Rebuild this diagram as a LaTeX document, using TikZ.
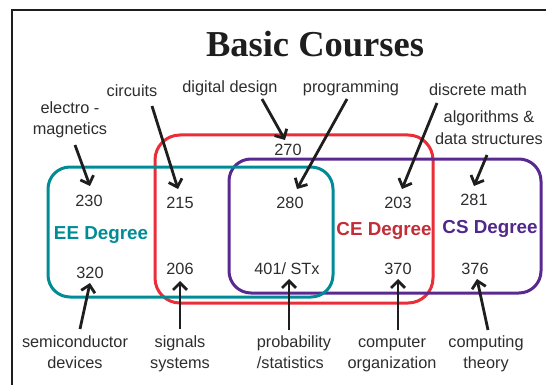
\documentclass[tikz,border=0pt]{standalone}
\usepackage{fontspec}
\setmainfont{Liberation Sans}
\newfontfamily\titlefont{Liberation Serif}
\usetikzlibrary{arrows.meta}
\definecolor{eeteal}{RGB}{0,140,150}
\definecolor{cered}{RGB}{235,45,55}
\definecolor{cetext}{RGB}{195,45,55}
\definecolor{cspurple}{RGB}{90,40,145}
\definecolor{cstext}{RGB}{80,40,140}
\definecolor{ink}{RGB}{30,30,30}
\definecolor{txt}{RGB}{45,45,45}
\begin{document}
\begin{tikzpicture}[x=1pt,y=-1pt,
  lab/.style={font=\fontsize{16.3}{21}\selectfont, text=txt, align=center, anchor=base, inner sep=0pt},
  num/.style={font=\fontsize{16.3}{19}\selectfont, text=txt, anchor=base, inner sep=0pt},
  deg/.style={font=\bfseries\fontsize{18.8}{22}\selectfont, anchor=base, inner sep=0pt},
  arr/.style={draw=ink, line width=2.8pt, -{Straight Barb[length=7pt,width=14pt]}},
  ring/.style={line width=3pt, rounded corners=22pt}]
\useasboundingbox (0,0) rectangle (546,385);
% frame
\draw[line width=2.5pt, ink] (12,400) -- (12,10) -- (560,10);
% title
\node[anchor=base, inner sep=0pt, font=\titlefont\bfseries\fontsize{36.5}{40}\selectfont, text=ink] (title) at (315,57) {Basic Courses};
% degree rings
\draw[ring, cered, rounded corners=25pt] (155,135) rectangle (433,303);
\draw[ring, cspurple] (229,159) rectangle (541,293);
\draw[ring, eeteal] (48,167) rectangle (333,297);
% degree names
\node[deg, text=eeteal] (ee) at (101,239) {EE Degree};
\node[deg, text=cetext] (ce) at (384,235) {CE Degree};
\node[deg, text=cstext] (cs) at (490,233) {CS Degree};
% course numbers
\node[num] (n270) at (288,156) {270};
\node[num] (n230) at (89,206) {230};
\node[num] (n215) at (180,208) {215};
\node[num] (n280) at (290,208) {280};
\node[num] (n203) at (398,208) {203};
\node[num] (n281) at (474,205) {281};
\node[num] (n320) at (90,278) {320};
\node[num] (n206) at (180,274) {206};
\node[num] (n401) at (287,274) {401/ STx};
\node[num] (n370) at (398,274) {370};
\node[num] (n376) at (475,274) {376};
% topic labels (base anchor = last line's baseline)
\node[lab] (electro) at (70,135) {electro -\\magnetics};
\node[lab] (circuits) at (132,97) {circuits};
\node[lab] (digital) at (230,93) {digital design};
\node[lab] (prog) at (351,93) {programming};
\node[lab] (discrete) at (478,96) {discrete math};
\node[lab] (algo) at (489,144) {algorithms \&\\data structures};
\node[lab] (semi) at (75,368) {semiconductor\\devices};
\node[lab] (signals) at (180,368) {signals\\systems};
\node[lab, align=left] (prob) at (294,368) {probability\\/statistics};
\node[lab] (comporg) at (392,368) {computer\\organization};
\node[lab] (comptheory) at (486,368) {computing\\theory};
% arrow end points
\coordinate (s1) at (75,145);  \coordinate (t1) at (90,186);
\coordinate (s2) at (152,106); \coordinate (t2) at (178,189);
\coordinate (s3) at (262,99);  \coordinate (t3) at (285,140);
\coordinate (s4) at (347,99);  \coordinate (t4) at (297,189);
\coordinate (s5) at (437,103); \coordinate (t5) at (402,189);
\coordinate (s6) at (487,155); \coordinate (t6) at (474,186);
\coordinate (s7) at (80,329);  \coordinate (t7) at (90,283);
\coordinate (s8) at (180,329); \coordinate (t8) at (180,281);
\coordinate (s9) at (289,330); \coordinate (t9) at (289,279);
\coordinate (s10) at (398,330); \coordinate (t10) at (398,279);
\coordinate (s11) at (488,330); \coordinate (t11) at (477,279);
\draw[arr] (s1) -- (t1);
\draw[arr] (s2) -- (t2);
\draw[arr] (s3) -- (t3);
\draw[arr] (s4) -- (t4);
\draw[arr] (s5) -- (t5);
\draw[arr] (s6) -- (t6);
\draw[arr] (s7) -- (t7);
\draw[arr] (s8) -- (t8);
\draw[arr] (s9) -- (t9);
\draw[arr] (s10) -- (t10);
\draw[arr] (s11) -- (t11);
\end{tikzpicture}
\end{document}
